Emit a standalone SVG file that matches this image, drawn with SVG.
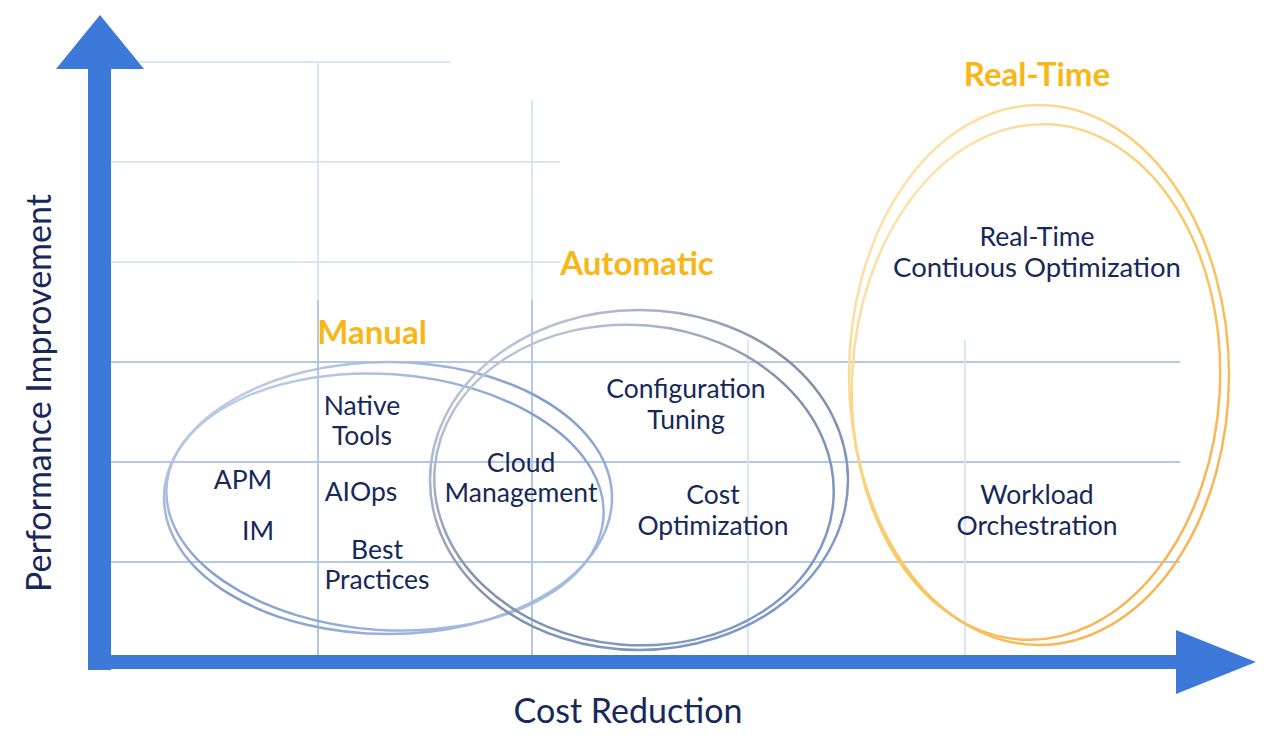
<svg xmlns="http://www.w3.org/2000/svg" width="1280" height="743" viewBox="0 0 1280 743">
<defs>
<linearGradient id="gBlue" x1="0" y1="0" x2="1" y2="1">
<stop offset="0" stop-color="#d3def0"/>
<stop offset="0.5" stop-color="#7f9bcb"/>
<stop offset="1" stop-color="#b5c8e8"/>
</linearGradient>
<linearGradient id="gGrey" x1="0" y1="0" x2="1" y2="1">
<stop offset="0" stop-color="#d0d9ea"/>
<stop offset="0.5" stop-color="#8290a8"/>
<stop offset="1" stop-color="#7b9dd4"/>
</linearGradient>
<linearGradient id="gOrange" x1="0" y1="0" x2="1" y2="1">
<stop offset="0" stop-color="#fdebc4"/>
<stop offset="0.5" stop-color="#f9c965"/>
<stop offset="1" stop-color="#f7ab4c"/>
</linearGradient>
<style>
.grid{stroke:#dde5f2;stroke-width:2;fill:none}
.gridd{stroke:#b3c7e8;stroke-width:2;fill:none}
.axis{fill:#3d79d9}
.t{font-family:Lato,"Noto Sans",sans-serif;font-size:26.5px;fill:#17285a;text-anchor:middle}
.h{font-family:Lato,"Noto Sans",sans-serif;font-size:33px;font-weight:bold;fill:#f7b718;text-anchor:middle}
.ax{font-family:Lato,"Noto Sans",sans-serif;font-size:34px;fill:#17285a;text-anchor:middle}
.eb{fill:none;stroke:url(#gBlue);stroke-width:2.5}
.eg{fill:none;stroke:url(#gGrey);stroke-width:2.5}
.eo{fill:none;stroke:url(#gOrange);stroke-width:2.5}
</style>
</defs>
<rect width="1280" height="743" fill="#ffffff"/>
<g id="grid">
<line class="grid" x1="110" y1="62" x2="450" y2="62"/>
<line class="grid" x1="110" y1="162" x2="560" y2="162"/>
<line class="grid" x1="110" y1="262" x2="560" y2="262"/>
<line class="gridd" x1="110" y1="362" x2="1180" y2="362"/>
<line class="gridd" x1="110" y1="462" x2="1180" y2="462"/>
<line class="gridd" x1="110" y1="562" x2="1180" y2="562"/>
<line class="grid" x1="318" y1="62" x2="318" y2="300"/>
<line class="gridd" x1="318" y1="300" x2="318" y2="656"/>
<line class="grid" x1="532" y1="100" x2="532" y2="300"/>
<line class="gridd" x1="532" y1="300" x2="532" y2="656"/>
<line class="grid" x1="748" y1="340" x2="748" y2="656"/>
<line class="grid" x1="965" y1="340" x2="965" y2="656"/>
</g>
<g id="axes">
<rect class="axis" x="88" y="66" width="23" height="604"/>
<polygon class="axis" points="100,15 144,69 56,69"/>
<rect class="axis" x="88" y="655" width="1092" height="14"/>
<polygon class="axis" points="1256,662 1176,630 1176,694"/>
</g>
<g id="connectors"></g>
<g id="manual">
<ellipse class="eb" cx="388" cy="498" rx="224" ry="136"/>
<ellipse class="eb" cx="385" cy="502" rx="219" ry="128" transform="rotate(4 385 502)"/>
<text class="h" x="372" y="344">Manual</text>
</g>
<g id="automatic">
<ellipse class="eg" cx="639" cy="480" rx="209" ry="170"/>
<ellipse class="eg" cx="634" cy="485" rx="200" ry="160" transform="rotate(5 634 485)"/>
<text class="h" x="637" y="275">Automatic</text>
</g>
<g id="realtime">
<ellipse class="eo" cx="1039" cy="375" rx="190" ry="270"/>
<ellipse class="eo" cx="1036" cy="382" rx="184" ry="258" transform="rotate(3 1036 382)"/>
<text class="h" x="1037" y="86">Real-Time</text>
</g>
<g id="n-native"><text class="t" x="362" y="415">Native</text><text class="t" x="362" y="445">Tools</text></g>
<g id="n-apm"><text class="t" x="243" y="489">APM</text></g>
<g id="n-im"><text class="t" x="258" y="540">IM</text></g>
<g id="n-aiops"><text class="t" x="361" y="501">AIOps</text></g>
<g id="n-best"><text class="t" x="377" y="559">Best</text><text class="t" x="377" y="589">Practices</text></g>
<g id="n-cloud"><text class="t" x="521" y="472">Cloud</text><text class="t" x="521" y="502">Management</text></g>
<g id="n-config"><text class="t" x="686" y="398">Configuration</text><text class="t" x="686" y="429">Tuning</text></g>
<g id="n-cost"><text class="t" x="713" y="504">Cost</text><text class="t" x="713" y="535">Optimization</text></g>
<g id="n-rtco"><text class="t" x="1037" y="246">Real-Time</text><text class="t" x="1037" y="277" style="font-size:27.5px">Contiuous Optimization</text></g>
<g id="n-workload"><text class="t" x="1037" y="504">Workload</text><text class="t" x="1037" y="535">Orchestration</text></g>
<g id="labels">
<text class="ax" x="628" y="723">Cost Reduction</text>
<text class="ax" x="0" y="0" transform="translate(51 393) rotate(-90)">Performance Improvement</text>
</g>
</svg>
